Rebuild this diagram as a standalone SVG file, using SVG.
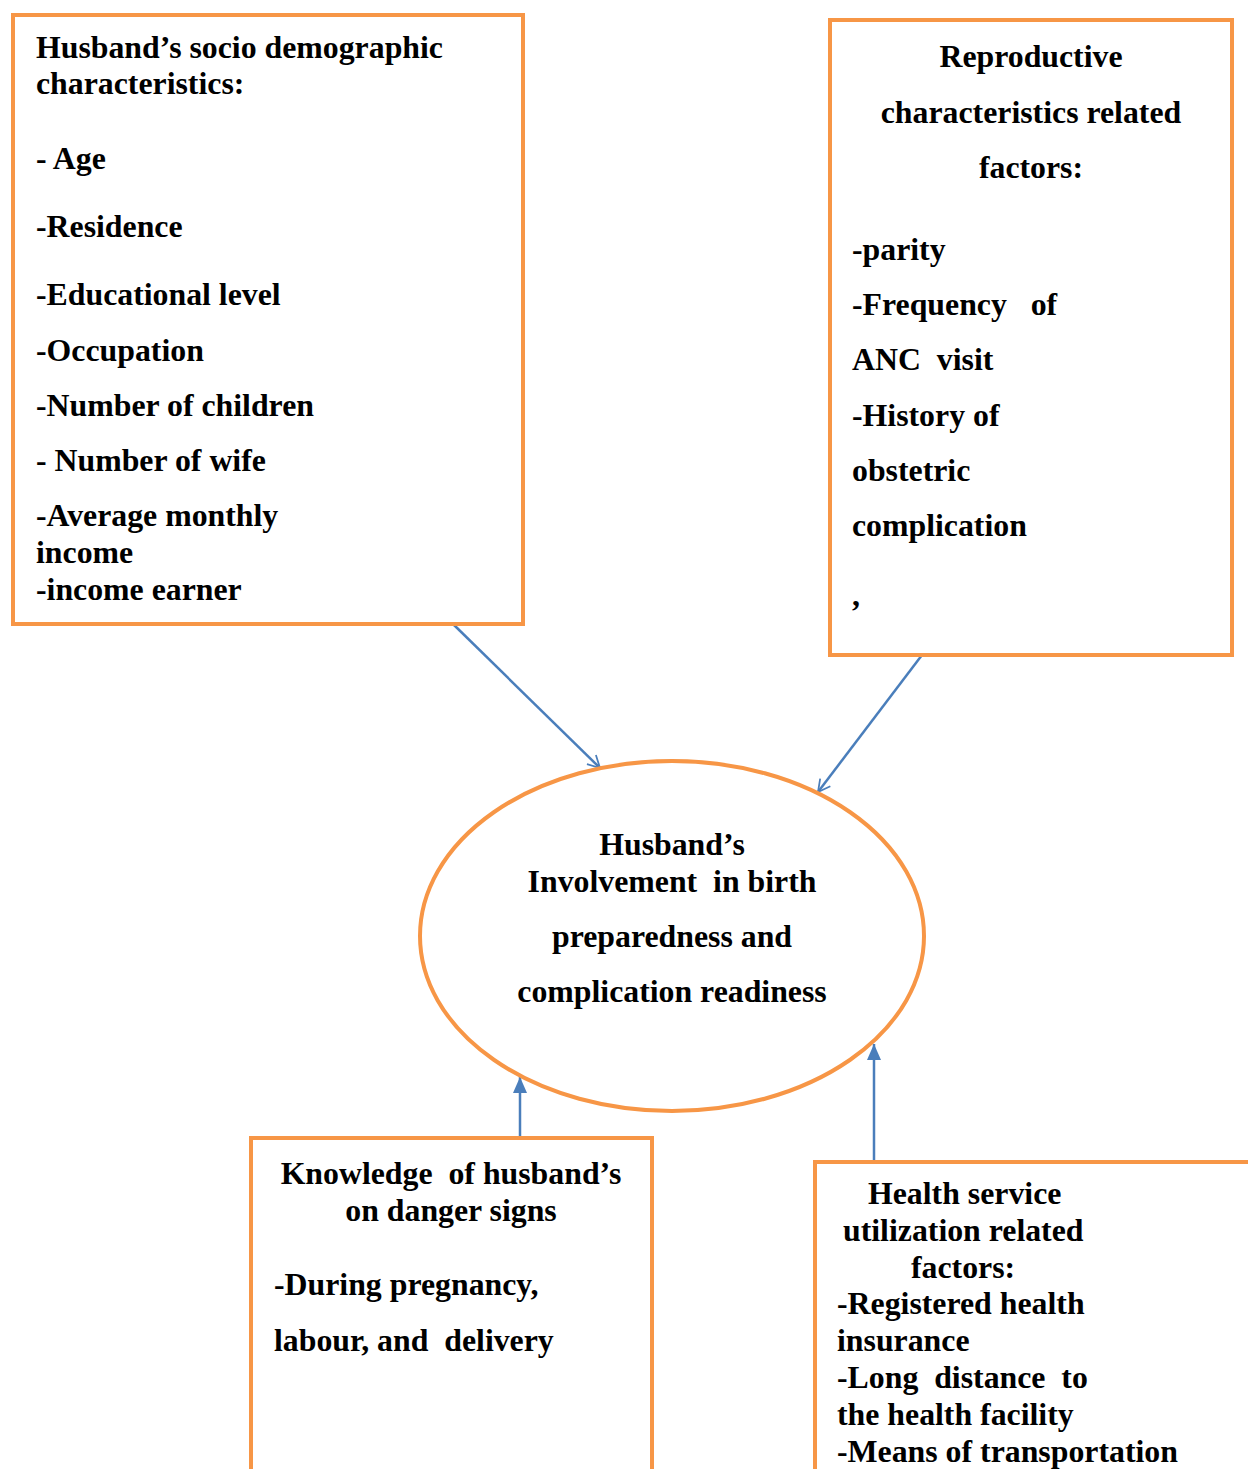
<svg xmlns="http://www.w3.org/2000/svg" width="1248" height="1469" viewBox="0 0 1248 1469">
<defs>
<style>
.box{fill:#fff;stroke:#F79646;stroke-width:4}
.t{font-family:"Liberation Serif","Times New Roman",serif;font-weight:bold;font-size:31.8px;fill:#000}
.c{text-anchor:middle}
.ln{stroke:#4A7EBB;stroke-width:2.5;fill:none}
</style>
<marker id="open" viewBox="0 0 20 20" refX="18" refY="10" markerWidth="16" markerHeight="16" markerUnits="userSpaceOnUse" orient="auto">
<path d="M3,2 L18,10 L3,18" fill="none" stroke="#4A7EBB" stroke-width="2.2"/>
</marker>
<marker id="fill" viewBox="0 0 16 16" refX="16" refY="8" markerWidth="16" markerHeight="16" markerUnits="userSpaceOnUse" orient="auto">
<path d="M0,1 L16,8 L0,15 Z" fill="#4A7EBB"/>
</marker>
</defs>
<rect width="1248" height="1469" fill="#fff"/>
<g id="connectors">
<line class="ln" x1="453" y1="624" x2="600" y2="768" marker-end="url(#open)"/>
<line class="ln" x1="922" y1="655" x2="818" y2="792" marker-end="url(#open)"/>
<line class="ln" x1="520" y1="1138" x2="520" y2="1077" marker-end="url(#fill)"/>
<line class="ln" x1="874" y1="1160" x2="874" y2="1044" marker-end="url(#fill)"/>
</g>
<g id="socio">
<rect class="box" x="13" y="15" width="510" height="609"/>
<text class="t" x="36" y="58">Husband’s socio demographic</text>
<text class="t" x="36" y="94">characteristics:</text>
<text class="t" x="36" y="169">- Age</text>
<text class="t" x="36" y="237">-Residence</text>
<text class="t" x="36" y="305">-Educational level</text>
<text class="t" x="36" y="361">-Occupation</text>
<text class="t" x="36" y="416">-Number of children</text>
<text class="t" x="36" y="471">- Number of wife</text>
<text class="t" x="36" y="526">-Average monthly</text>
<text class="t" x="36" y="563">income</text>
<text class="t" x="36" y="600">-income earner</text>
</g>
<g id="reproductive">
<rect class="box" x="830" y="20" width="402" height="635"/>
<text class="t c" x="1031" y="67">Reproductive</text>
<text class="t c" x="1031" y="123">characteristics related</text>
<text class="t c" x="1031" y="178">factors:</text>
<text class="t" x="852" y="260">-parity</text>
<text class="t" x="852" y="315" xml:space="preserve">-Frequency   of</text>
<text class="t" x="852" y="370" xml:space="preserve">ANC  visit</text>
<text class="t" x="852" y="426">-History of</text>
<text class="t" x="852" y="481">obstetric</text>
<text class="t" x="852" y="536">complication</text>
<text class="t" x="852" y="606" font-size="11">,</text>
</g>
<g id="involvement">
<ellipse cx="672" cy="936" rx="252" ry="175" fill="#fff" stroke="#F79646" stroke-width="4"/>
<text class="t c" x="672" y="855">Husband’s</text>
<text class="t c" x="672" y="892" xml:space="preserve">Involvement  in birth</text>
<text class="t c" x="672" y="947">preparedness and</text>
<text class="t c" x="672" y="1002">complication readiness</text>
</g>
<g id="knowledge">
<rect class="box" x="251" y="1138" width="401" height="360"/>
<text class="t c" x="451" y="1184" xml:space="preserve">Knowledge  of husband’s</text>
<text class="t c" x="451" y="1221">on danger signs</text>
<text class="t" x="274" y="1295">-During pregnancy,</text>
<text class="t" x="274" y="1351" xml:space="preserve">labour, and  delivery</text>
</g>
<g id="health">
<rect class="box" x="815" y="1162" width="460" height="340"/>
<text class="t" x="868" y="1204">Health service</text>
<text class="t" x="843" y="1241">utilization related</text>
<text class="t" x="911" y="1278">factors:</text>
<text class="t" x="837" y="1314">-Registered health</text>
<text class="t" x="837" y="1351">insurance</text>
<text class="t" x="837" y="1388" xml:space="preserve">-Long  distance  to</text>
<text class="t" x="837" y="1425">the health facility</text>
<text class="t" x="837" y="1462">-Means of transportation</text>
</g>
</svg>
